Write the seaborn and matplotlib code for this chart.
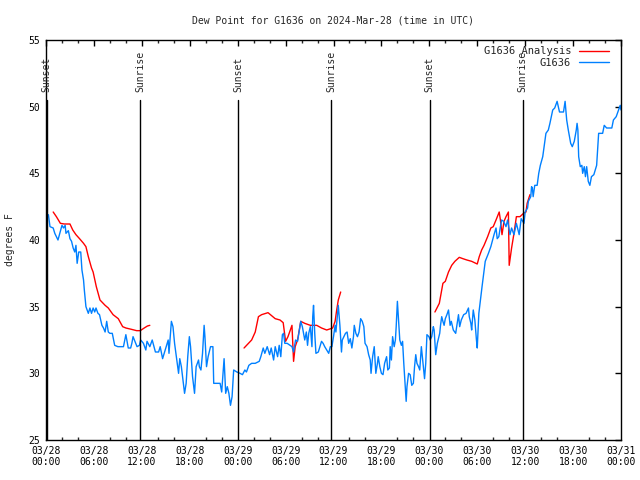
import numpy as np
import pandas as pd
import matplotlib
matplotlib.use("Agg")
import matplotlib.pyplot as plt
import matplotlib.dates as mdates
from matplotlib.lines import Line2D
import seaborn as sns

# ─────────────────────────────────────────────
# Data (hours after 2024-03-28 00:00 UTC, degrees F)
# ─────────────────────────────────────────────
BASE = pd.Timestamp("2024-03-28 00:00")

obs_hours = [
    0.3, 0.5, 0.9, 1.1, 1.5, 2.0, 2.2, 2.4, 2.5, 2.8, 3.0, 3.2, 3.4, 3.6, 3.75, 3.9,
    4.1, 4.35, 4.5, 4.7, 4.8, 5.0, 5.3, 5.5, 5.7, 5.9, 6.1, 6.26, 6.5, 6.7, 7.0, 7.2,
    7.4, 7.6, 7.8, 8.0, 8.3, 8.6, 9.0, 9.7, 10.0, 10.3, 10.6, 10.75, 10.9, 11.4, 11.7,
    11.85, 12.2, 12.5, 12.65, 13.0, 13.3, 13.7, 14.1, 14.3, 14.6, 14.8, 15.1, 15.3,
    15.4, 15.7, 15.9, 16.1, 16.6, 16.75, 16.95, 17.2, 17.35, 17.55, 17.75, 17.95, 18.1,
    18.35, 18.6, 18.8, 19.1, 19.2, 19.4, 19.6, 19.8, 19.9, 20.1, 20.3, 20.6, 20.9, 21.0,
    21.8, 22.0, 22.3, 22.5, 22.7, 22.9, 23.1, 23.3, 23.5, 23.9, 24.3, 24.6, 24.9, 25.1,
    25.4, 25.75, 26.2, 26.7, 26.9, 27.2, 27.4, 27.7, 28.0, 28.2, 28.5, 28.7, 29.0, 29.2,
    29.4, 29.6, 29.75, 29.9, 30.2, 30.55, 30.8, 31.0, 31.25, 31.5, 31.9, 32.1, 32.4,
    32.6, 32.75, 32.9, 33.1, 33.3, 33.4, 33.5, 33.65, 33.8, 34.1, 34.3, 34.5, 34.7,
    34.9, 35.4, 35.6, 35.8, 36.0, 36.2, 36.3, 36.6, 36.8, 37.0, 37.1, 37.5, 37.7, 37.9,
    38.1, 38.3, 38.5, 38.6, 38.8, 39.0, 39.2, 39.4, 39.6, 39.8, 39.95, 40.2, 40.4, 40.6,
    40.7, 40.9, 41.1, 41.3, 41.5, 41.6, 41.8, 42.0, 42.2, 42.4, 42.65, 42.8, 43.0, 43.1,
    43.25, 43.4, 43.6, 43.75, 43.85, 44.0, 44.15, 44.3, 44.5, 44.65, 44.8, 45.0, 45.1,
    45.2, 45.4, 45.6, 45.8, 46.0, 46.15, 46.3, 46.45, 46.65, 46.8, 47.0, 47.15, 47.3,
    47.4, 47.55, 47.7, 47.95, 48.1, 48.3, 48.5, 48.6, 48.8, 49.0, 49.3, 49.4, 49.55,
    49.7, 49.85, 50.0, 50.2, 50.4, 50.6, 50.75, 51.0, 51.3, 51.45, 51.65, 51.8, 52.0,
    52.3, 52.6, 52.9, 53.0, 53.2, 53.3, 53.5, 53.7, 53.9, 54.0, 54.2, 54.35, 54.6, 55.0,
    55.4, 55.7, 56.1, 56.35, 56.5, 56.7, 56.9, 57.05, 57.3, 57.6, 57.8, 58.1, 58.3, 58.6,
    58.9, 59.25, 59.5, 59.7, 59.85, 60.0, 60.3, 60.4, 60.7, 60.8, 60.9, 61.0, 61.2, 61.5,
    61.7, 61.9, 62.2, 62.35, 62.6, 62.9, 63.1, 63.45, 63.7, 64.0, 64.3, 64.8, 65.0, 65.2,
    65.4, 65.7, 65.9, 66.15, 66.4, 66.5, 66.6, 66.7, 66.9, 67.1, 67.2, 67.4, 67.55, 67.7,
    67.9, 68.1, 68.3, 68.6, 68.95, 69.2, 69.7, 69.9, 70.2, 70.85, 71.05, 71.4, 71.7,
    71.9, 72.0,
]
obs_dewpt = [
    41.9, 41.0, 40.9, 40.5, 40.0, 41.1, 40.9, 41.1, 40.5, 40.7, 40.1, 39.9, 39.4, 39.1, 39.6, 38.25,
    39.1, 39.1, 37.75, 37.0, 36.25, 35.0, 34.5, 34.9, 34.5, 34.9, 34.6, 34.9, 34.5, 34.4, 33.6, 33.4,
    33.1, 33.9, 33.1, 33.0, 33.0, 32.1, 32.0, 32.0, 32.9, 31.9, 31.9, 32.25, 32.75, 32.0, 32.1,
    32.5, 32.25, 31.75, 32.4, 32.0, 32.5, 31.6, 31.6, 32.0, 31.1, 31.5, 32.1, 32.5,
    31.5, 33.9, 33.5, 32.25, 30.0, 31.1, 30.5, 29.25, 28.5, 29.25, 31.25, 32.75, 32.0,
    29.75, 28.5, 30.5, 31.0, 30.5, 30.25, 31.5, 33.6, 32.75, 30.5, 31.25, 32.0, 32.0, 29.25,
    29.25, 28.6, 31.1, 28.5, 29.0, 28.5, 27.6, 28.25, 30.25, 30.1, 30.0, 29.9, 30.25, 30.1,
    30.6, 30.75, 30.75, 30.9, 31.25, 31.9, 31.5, 32.0, 31.4, 31.9, 31.0, 32.0, 31.25, 32.1,
    31.25, 32.9, 33.0, 32.25, 32.25, 32.1, 32.0, 31.6, 32.5, 32.4, 33.9, 33.5, 32.5,
    33.1, 32.1, 33.0, 33.5, 32.0, 34.25, 35.1, 33.0, 31.5, 31.6, 32.0, 32.4, 32.25,
    32.0, 31.5, 32.0, 32.0, 32.75, 33.6, 33.1, 35.1, 33.6, 31.6, 32.5, 33.0, 33.1, 32.25,
    32.6, 31.9, 32.75, 33.6, 33.0, 32.75, 33.1, 34.1, 33.9, 33.5, 32.25, 32.0, 31.4, 31.0,
    30.0, 31.25, 32.0, 30.0, 30.75, 31.25, 30.5, 30.0, 29.9, 30.75, 31.25, 30.25, 30.4, 32.0,
    31.0, 32.75, 32.0, 32.5, 33.5, 35.4, 34.0, 32.5, 32.1, 32.4, 30.75, 28.9, 27.9,
    29.0, 30.0, 29.9, 29.1, 29.25, 30.5, 31.4, 30.75, 30.5, 30.25, 32.0, 31.1, 30.25,
    29.6, 30.75, 32.9, 32.75, 32.5, 32.75, 33.5, 33.25, 31.4, 32.25, 33.0, 33.6, 34.25,
    33.9, 33.6, 34.1, 34.4, 34.75, 33.6, 33.9, 33.25, 33.0, 33.6, 34.4, 33.5, 34.0,
    34.4, 34.5, 34.9, 34.25, 33.75, 33.25, 34.75, 34.0, 32.5, 31.9, 34.5, 35.25, 36.5, 38.4,
    39.0, 39.5, 40.4, 40.9, 40.1, 40.25, 41.0, 41.5, 41.4, 41.0, 41.5, 40.4, 40.9, 40.4,
    41.25, 40.4, 41.6, 41.4, 41.25, 42.1, 42.4, 42.9, 43.25, 44.0, 43.9, 43.25, 44.1, 44.1,
    45.0, 45.6, 46.25, 46.9, 48.0, 48.25, 48.75, 49.75, 49.9, 50.4, 49.6, 49.6, 50.4, 49.0,
    48.25, 47.25, 47.0, 47.4, 48.25, 48.75, 48.25, 46.25, 45.5, 45.6, 45.0, 45.5, 44.75, 45.5,
    44.4, 44.1, 44.75, 44.9, 45.6, 48.0, 48.0, 48.6, 48.4, 48.4, 49.0, 49.25, 49.75,
    50.1, 49.75,
]

# analysis series: three separate runs
ana_hours_1 = [0.9, 1.3, 1.8, 2.3, 3.0, 3.35, 3.75, 4.2, 4.7, 5.0, 5.3, 5.7, 5.9, 6.3, 6.76,
               7.4, 7.8, 8.4, 9.05, 9.6, 10.0, 10.7, 11.35, 11.8, 12.3, 12.7, 13.0]
ana_dewpt_1 = [42.1, 41.75, 41.25, 41.2, 41.2, 40.75, 40.4, 40.1, 39.75, 39.5, 38.75, 37.9, 37.6,
               36.5, 35.5, 35.1, 34.9, 34.4, 34.1, 33.5, 33.4, 33.3, 33.2, 33.2, 33.4, 33.55, 33.6]
ana_hours_2 = [24.8, 25.75, 26.2, 26.6, 27.0, 27.8, 28.7, 29.3, 29.7, 30.0, 30.3, 30.8, 31.0,
               31.2, 31.5, 31.9, 32.4, 33.1, 33.9, 34.5, 35.15, 35.9, 36.2, 36.4, 36.6, 36.9]
ana_dewpt_2 = [31.9, 32.5, 33.1, 34.25, 34.4, 34.55, 34.1, 34.0, 33.8, 32.4, 32.75, 33.6, 30.9,
               32.0, 32.5, 33.9, 33.75, 33.6, 33.6, 33.4, 33.25, 33.4, 33.9, 34.75, 35.5, 36.1]
ana_hours_3 = [48.7, 49.25, 49.7, 50.0, 50.4, 50.8, 51.2, 51.75, 52.2, 52.7, 53.3, 54.0, 54.25,
               54.55, 54.85, 55.3, 55.7, 56.0, 56.35, 56.75, 56.9, 57.1, 57.35, 57.6, 57.9, 58.0,
               58.3, 58.6, 58.9, 59.35, 59.8, 60.1, 60.25, 60.6]
ana_dewpt_3 = [34.6, 35.25, 36.75, 36.9, 37.6, 38.1, 38.4, 38.7, 38.6, 38.5, 38.4, 38.2, 38.75,
               39.25, 39.6, 40.25, 40.9, 41.0, 41.5, 42.1, 41.5, 40.4, 41.4, 41.75, 42.1, 38.1,
               39.4, 40.5, 41.75, 41.75, 42.0, 42.1, 42.75, 43.4]

sun_hours = [0.07, 11.77, 24.07, 35.73, 48.05, 59.7]
sun_labels = ["Sunset", "Sunrise", "Sunset", "Sunrise", "Sunset", "Sunrise"]

RED = "#ff0000"
BLUE = "#0080ff"


def to_time(hours):
    return BASE + pd.to_timedelta(np.asarray(hours), unit="h")


obs = pd.DataFrame({"time": to_time(obs_hours), "dewpt": obs_dewpt})
ana = pd.concat([
    pd.DataFrame({"time": to_time(h), "dewpt": v, "seg": i})
    for i, (h, v) in enumerate([(ana_hours_1, ana_dewpt_1),
                                (ana_hours_2, ana_dewpt_2),
                                (ana_hours_3, ana_dewpt_3)])
], ignore_index=True)

# ─────────────────────────────────────────────
# Figure
# ─────────────────────────────────────────────
sns.set_theme(style="white")
plt.rcParams["font.family"] = ["DejaVu Sans Mono", "DejaVu Sans"]
plt.rcParams["font.size"] = 7

fig = plt.figure(figsize=(6.4, 4.8), dpi=100)
ax = fig.add_axes([46 / 640, 40 / 480, 575 / 640, 400 / 480])

sns.lineplot(data=ana, x="time", y="dewpt", units="seg", estimator=None,
             color=RED, lw=1, ax=ax)
sns.lineplot(data=obs, x="time", y="dewpt", color=BLUE, lw=1, ax=ax)

for h, lab in zip(sun_hours, sun_labels):
    t = to_time([h])[0]
    ax.axvline(t, ymin=0, ymax=0.85, color="black", lw=1)
    ax.text(t, 0.87, lab, transform=ax.get_xaxis_transform(), rotation=90,
            ha="center", va="bottom", fontsize=7, clip_on=False)

ax.set_xlim(BASE, BASE + pd.Timedelta(hours=72))
ax.set_ylim(25, 55)
ax.set_yticks(range(25, 56, 5))
ax.xaxis.set_major_locator(mdates.HourLocator(byhour=[0, 6, 12, 18]))
ax.xaxis.set_minor_locator(mdates.HourLocator(interval=2))
ax.xaxis.set_major_formatter(mdates.DateFormatter("%m/%d\n%H:%M"))
ax.tick_params(axis="both", which="major", direction="in", length=4, width=1,
               top=True, right=True, labelsize=7, colors="black", pad=4)
ax.tick_params(axis="x", which="minor", direction="in", length=2.5, width=1,
               top=True, bottom=True)
for sp in ax.spines.values():
    sp.set_color("black")
    sp.set_linewidth(1)

ax.set_xlabel("")
ax.set_ylabel("degrees F", fontsize=7, labelpad=10)
ax.set_title("Dew Point for G1636 on 2024-Mar-28 (time in UTC)", fontsize=7, pad=12)

handles = [Line2D([], [], color=RED, lw=1), Line2D([], [], color=BLUE, lw=1)]
ax.legend(handles, ["G1636 Analysis", "G1636"], loc="upper right", frameon=False,
          markerfirst=False, handlelength=2.9, fontsize=7.5, labelspacing=0.15,
          bbox_to_anchor=(1 - 6 / 575, 1.0), borderaxespad=0.2, handletextpad=0.7)

plt.savefig("out.png", dpi=100)
plt.close()
